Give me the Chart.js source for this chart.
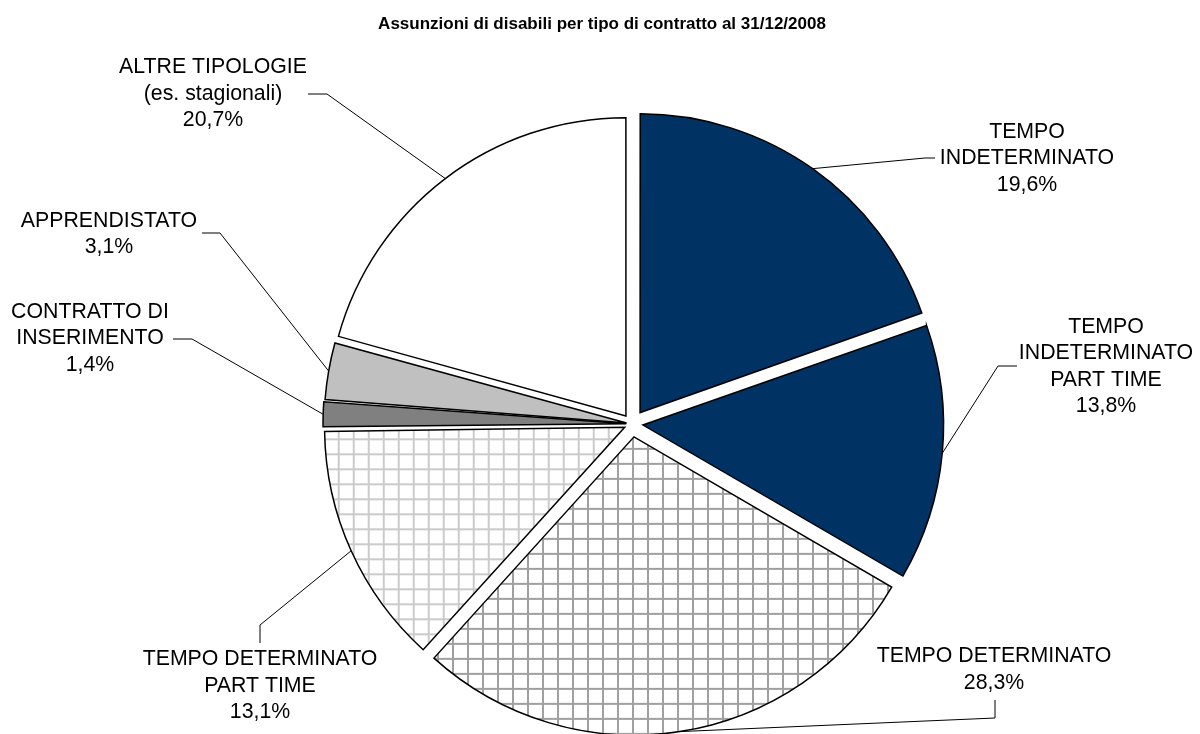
<!DOCTYPE html>
<html>
<head>
<meta charset="utf-8">
<script src="https://cdn.jsdelivr.net/npm/chart.js@4.4.1/dist/chart.umd.min.js"></script>
<style>
  body { margin: 0; background: #fff; }
  #wrap { width: 1200px; height: 734px; position: relative; }
</style>
</head>
<body>
<div id="wrap"><canvas id="pie"></canvas></div>
<script>
// Data
const categories = [
  ["TEMPO", "INDETERMINATO"],
  ["TEMPO", "INDETERMINATO", "PART TIME"],
  ["TEMPO DETERMINATO"],
  ["TEMPO DETERMINATO", "PART TIME"],
  ["CONTRATTO DI", "INSERIMENTO"],
  ["APPRENDISTATO"],
  ["ALTRE TIPOLOGIE", "(es. stagionali)"]
];
const values = [19.6, 13.8, 28.3, 13.1, 1.4, 3.1, 20.7];
const titleText = "Assunzioni di disabili per tipo di contratto al 31/12/2008";

// Label layout: text centre and leader line (label side -> elbow -> slice)
const labelLayout = [
  { x: 1027, y: 158.5, lead: [935, 158, 925, 158] },
  { x: 1106, y: 366.5, lead: [1017, 366, 998, 366] },
  { x: 994,  y: 669.5, lead: [995, 700, 995, 718] },
  { x: 260,  y: 686,   lead: [260, 643, 260, 625] },
  { x: 90,   y: 338.5, lead: [173, 339, 192, 339] },
  { x: 109,  y: 234,   lead: [202, 233, 220, 233] },
  { x: 213,  y: 94,    lead: [308, 94, 327, 94] }
];
const lineGap = 26.5;

// grid patterns
function gridPattern(color) {
  const tile = document.createElement("canvas");
  tile.width = 15;
  tile.height = 15;
  const t = tile.getContext("2d");
  t.fillStyle = "#fff";
  t.fillRect(0, 0, 15, 15);
  t.fillStyle = color;
  t.fillRect(0, 0, 15, 2);
  t.fillRect(0, 0, 2, 15);
  return t.createPattern(tile, "repeat");
}

const ctx = document.getElementById("pie").getContext("2d");
const colors = ["#003264", "#003264", gridPattern("#a0a0a0"), gridPattern("#cbcbcb"), "#808080", "#c0c0c0", "#ffffff"];
const offsets = [56, 44, 52, 32, 23, 22, 40];

function fmt(v) {
  return v.toFixed(1).replace(".", ",") + "%";
}

const labelPlugin = {
  id: "pieLabels",
  afterDraw(chart) {
    const c = chart.ctx;
    c.save();
    // title
    c.fillStyle = "#000";
    c.font = "bold 17px 'Liberation Sans', Arial, sans-serif";
    c.textAlign = "center";
    c.textBaseline = "middle";
    c.fillText(titleText, 602, 24);

    const arcs = chart.getDatasetMeta(0).data;
    arcs.forEach((arc, i) => {
      const p = arc.getProps(["x", "y", "startAngle", "endAngle", "outerRadius", "circumference"], true);
      const t = (arc.options.offset || 0) / 4;
      const fix = 1 - Math.sin(Math.min(Math.PI, p.circumference));
      const r = p.outerRadius + t * fix + t;
      const mid = (p.startAngle + p.endAngle) / 2;
      const ex = p.x + Math.cos(mid) * r;
      const ey = p.y + Math.sin(mid) * r;
      const L = labelLayout[i];

      c.strokeStyle = "#000";
      c.lineWidth = 1;
      c.beginPath();
      c.moveTo(L.lead[0], L.lead[1]);
      c.lineTo(L.lead[2], L.lead[3]);
      c.lineTo(ex, ey);
      c.stroke();

      const lines = categories[i].concat([fmt(values[i])]);
      c.font = "21.3px 'Liberation Sans', Arial, sans-serif";
      c.fillStyle = "#000";
      const y0 = L.y - (lines.length - 1) * lineGap / 2;
      lines.forEach((s, k) => c.fillText(s, L.x, y0 + k * lineGap));
    });
    c.restore();
  }
};

new Chart(ctx, {
  type: "pie",
  data: {
    labels: categories.map(c => c.join(" ")),
    datasets: [{
      data: values,
      backgroundColor: colors,
      borderColor: "#000",
      borderWidth: 1.5,
      borderJoinStyle: "miter",
      offset: offsets,
      hoverOffset: 0
    }]
  },
  options: {
    responsive: true,
    maintainAspectRatio: false,
    animation: false,
    radius: 298,
    layout: { padding: { left: 64, right: 0, top: 114, bottom: 0 } },
    plugins: {
      legend: { display: false },
      tooltip: { enabled: false },
      title: { display: false }
    },
    events: []
  },
  plugins: [labelPlugin]
});
</script>
</body>
</html>
